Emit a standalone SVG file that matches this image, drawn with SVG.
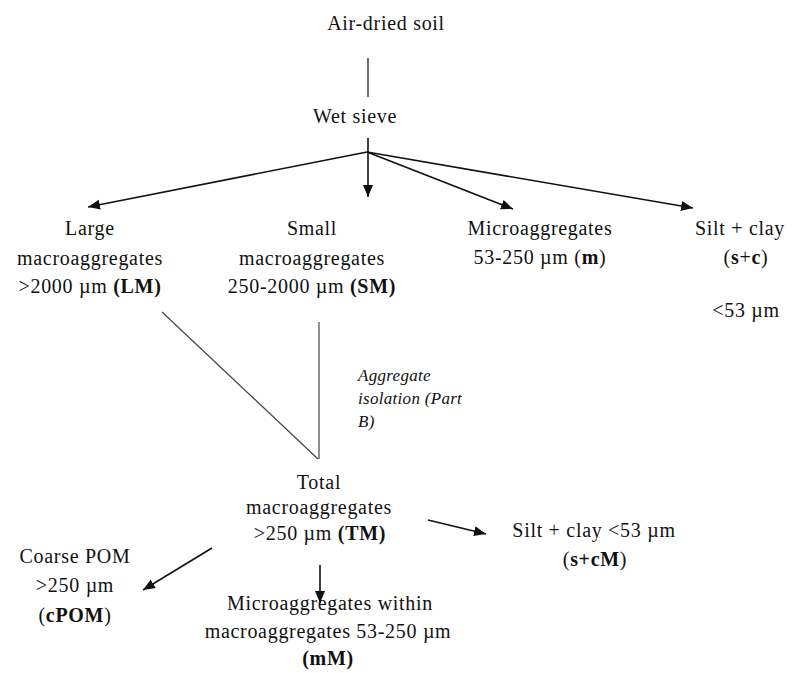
<svg xmlns="http://www.w3.org/2000/svg" width="793" height="673" viewBox="0 0 793 673">
<style>
text{font-family:"Liberation Serif","Times New Roman",serif;font-size:20px;fill:#111;letter-spacing:0.7px;text-anchor:middle}
.it{font-style:italic;font-size:17px;text-anchor:start;letter-spacing:0.3px}
.b{font-weight:bold}
.ar{stroke:#111;stroke-width:1.6;fill:none;marker-end:url(#ah)}
.ln{stroke:#444;stroke-width:1.2;fill:none}
</style>
<defs>
<marker id="ah" markerUnits="userSpaceOnUse" markerWidth="14" markerHeight="12" refX="12" refY="5" orient="auto">
<path d="M0,0 L12,5 L0,10 Z" fill="#111"/>
</marker>
</defs>
<rect width="793" height="673" fill="#fff"/>
<g id="connectors">
<line class="ln" x1="368" y1="58" x2="368" y2="97" style="stroke:#111"/>
<line class="ar" x1="368" y1="138" x2="368" y2="197"/>
<line class="ar" x1="367" y1="152" x2="88" y2="207"/>
<line class="ar" x1="367" y1="152" x2="513" y2="209"/>
<line class="ar" x1="367" y1="152" x2="693" y2="208"/>
<line class="ln" x1="162" y1="312" x2="318" y2="459"/>
<line class="ln" x1="319" y1="322" x2="319" y2="459"/>
<line class="ar" x1="212" y1="548" x2="143" y2="590"/>
<line class="ar" x1="320" y1="565" x2="320" y2="603"/>
<line class="ar" x1="428" y1="520" x2="486" y2="534"/>
</g>
<g id="air-dried-soil"><text x="386" y="30">Air-dried soil</text></g>
<g id="wet-sieve"><text x="355" y="123">Wet sieve</text></g>
<g id="LM">
<text x="90" y="235">Large</text>
<text x="90" y="265">macroaggregates</text>
<text x="90" y="293">&gt;2000 µm <tspan class="b">(LM)</tspan></text>
</g>
<g id="SM">
<text x="312" y="235">Small</text>
<text x="312" y="265">macroaggregates</text>
<text x="312" y="293">250-2000 µm <tspan class="b">(SM)</tspan></text>
</g>
<g id="m">
<text x="540" y="235">Microaggregates</text>
<text x="540" y="264">53-250 µm (<tspan class="b">m</tspan>)</text>
</g>
<g id="sc">
<text x="740" y="235">Silt + clay</text>
<text x="746" y="264">(<tspan class="b">s</tspan>+<tspan class="b">c</tspan>)</text>
<text x="746" y="317">&lt;53 µm</text>
</g>
<g id="isolation-label">
<text class="it" x="358" y="381">Aggregate</text>
<text class="it" x="358" y="404">isolation (Part</text>
<text class="it" x="358" y="427">B)</text>
</g>
<g id="TM">
<text x="319" y="489">Total</text>
<text x="319" y="514">macroaggregates</text>
<text x="320" y="540">&gt;250 µm <tspan class="b">(TM)</tspan></text>
</g>
<g id="cPOM">
<text x="75" y="563">Coarse POM</text>
<text x="75" y="592">&gt;250 µm</text>
<text x="75" y="622">(<tspan class="b">cPOM</tspan>)</text>
</g>
<g id="mM">
<text x="330" y="610">Microaggregates within</text>
<text x="328" y="638">macroaggregates 53-250 µm</text>
<text x="328" y="665"><tspan class="b">(mM)</tspan></text>
</g>
<g id="scM">
<text x="594" y="537">Silt + clay &lt;53 µm</text>
<text x="595" y="566">(<tspan class="b">s+cM</tspan>)</text>
</g>
</svg>
